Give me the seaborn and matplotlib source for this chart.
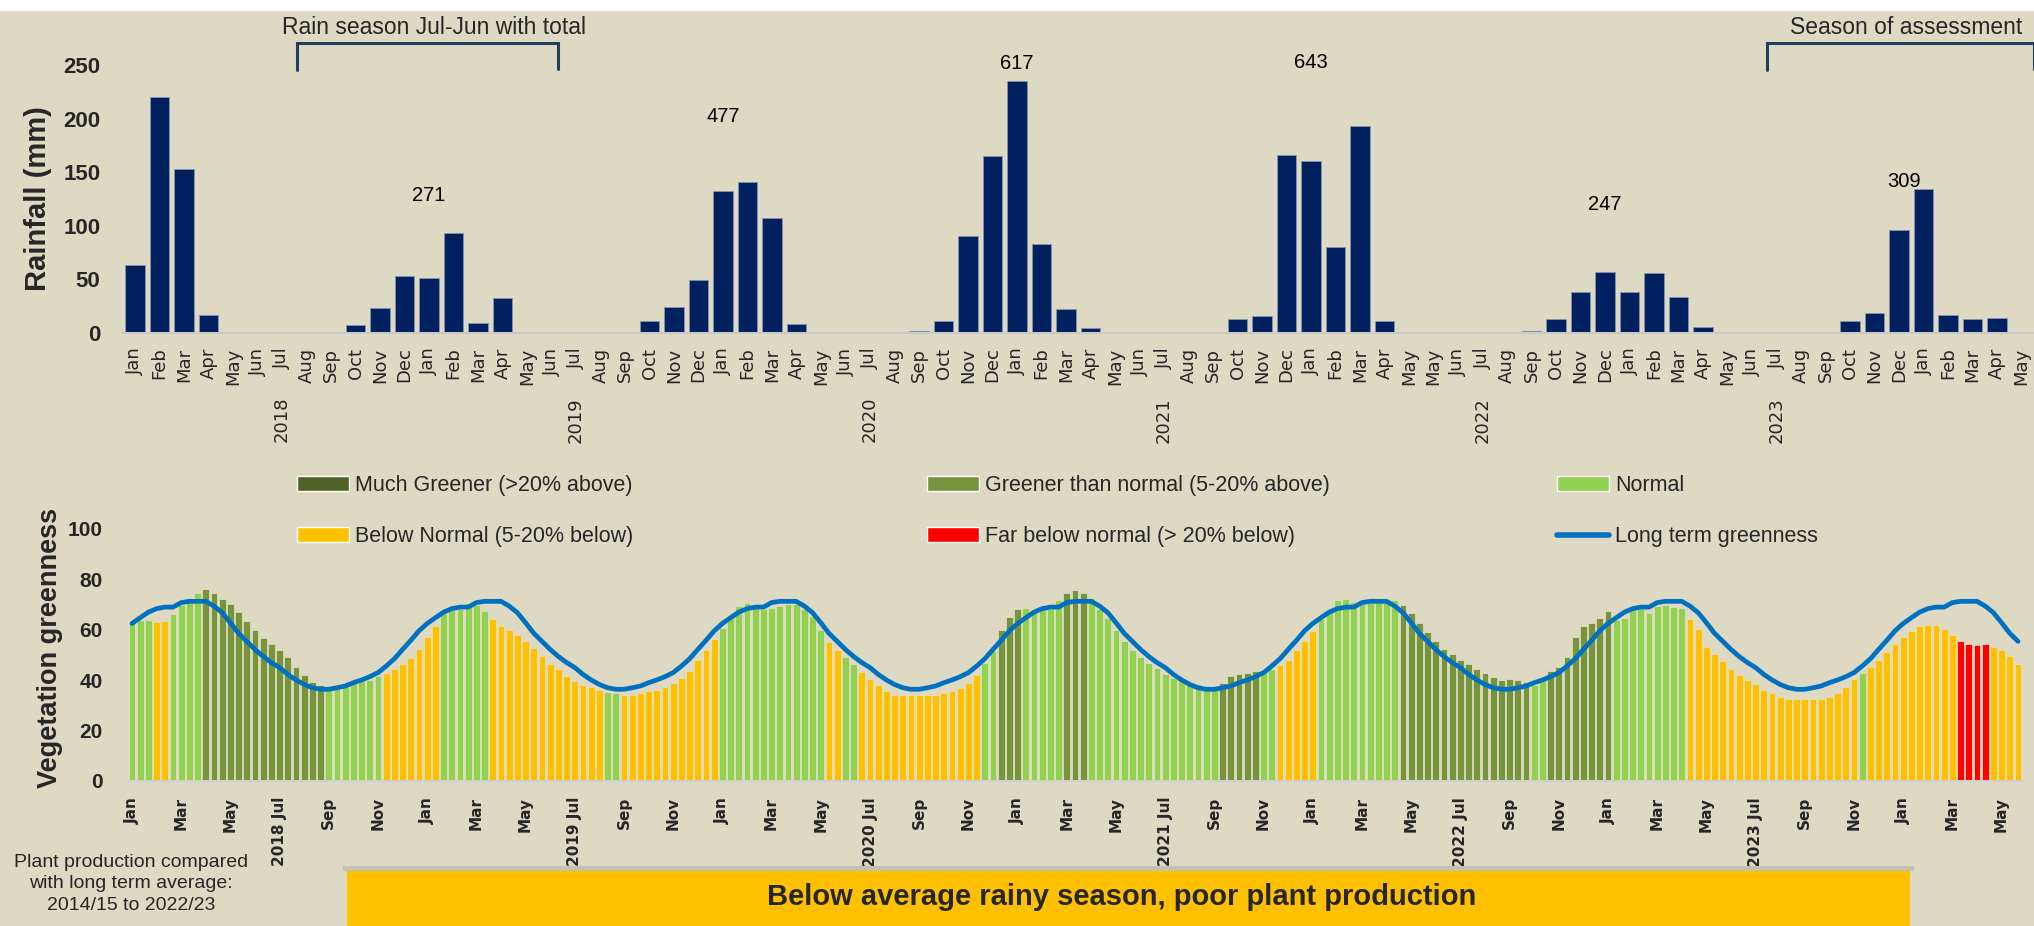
import numpy as np
import pandas as pd
import matplotlib
matplotlib.use("Agg")
import matplotlib.pyplot as plt
from matplotlib.patches import Patch, Rectangle
from matplotlib.lines import Line2D
import seaborn as sns

# ---------------- data ----------------
months = ['Jan', 'Feb', 'Mar', 'Apr', 'May', 'Jun', 'Jul', 'Aug', 'Sep', 'Oct', 'Nov', 'Dec']

# monthly rainfall (mm), Jan 2018 - May 2024 (2022 has "May" twice, as in the source chart)
rain_2018 = [63, 220, 153, 17, 0, 0, 0, 0, 0.5, 7.5, 23, 53]
rain_2019 = [51, 93, 9, 32.5, 0, 0, 0, 0, 0.5, 11.5, 24, 49]
rain_2020 = [132, 140.6, 107, 8.8, 0, 0, 0, 0, 1.5, 11.5, 90.6, 165]
rain_2021 = [235, 83.4, 22.8, 4.4, 0, 0, 0, 0, 0.3, 12.8, 15.6, 166]
rain_2022 = [160, 80, 193, 11.5, 0.3, 0.3, 0, 0, 0, 1.5, 12.8, 37.8, 57.2]
rain_2023 = [37.8, 55.6, 33.8, 6, 0, 0, 0, 0, 0.3, 11.5, 18.4, 96]
rain_2024 = [134, 17, 12.8, 14.4, 0]
rainfall = rain_2018 + rain_2019 + rain_2020 + rain_2021 + rain_2022 + rain_2023 + rain_2024
rain_months = months * 4 + months[:5] + ['May'] + months[5:] + months + months[:5]
rain_years = ['2018', '2019', '2020', '2021', '2022', '2023']
season_totals = [271, 477, 617, 643, 247, 309]

# dekadal vegetation greenness, Jan 2018 - May 2024
veg_2018 = [63.5, 64.0, 64.0, 63.0, 63.6, 66.4, 69.7, 72.8, 74.5, 76.2, 74.6, 72.4,
            70.2, 66.9, 63.6, 59.9, 56.6, 54.5, 51.9, 49.1, 45.4, 42.1, 39.4, 38.2,
            37.7, 37.7, 38.1, 38.8, 39.6, 40.2, 41.7, 42.7, 44.3, 46.3, 48.7, 52.4]
veg_2019 = [57.3, 61.6, 66.8, 67.9, 68.4, 70.8, 69.7, 67.5, 64.2, 61.5, 59.9, 57.8,
            55.7, 52.9, 49.6, 46.4, 44.3, 41.5, 39.8, 38.2, 37.2, 36.1, 35.4, 35.1,
            34.0, 34.0, 35.1, 35.6, 36.1, 37.3, 38.8, 41.0, 43.7, 48.0, 51.9, 56.2]
veg_2020 = [60.8, 65.2, 69.4, 70.8, 70.2, 68.4, 68.7, 69.3, 70.4, 70.4, 68.4, 65.5,
            59.9, 55.2, 52.0, 49.2, 46.3, 43.3, 40.6, 38.0, 35.7, 34.0, 34.0, 34.0,
            34.0, 34.0, 34.0, 35.1, 35.6, 36.8, 38.9, 42.1, 47.0, 51.6, 59.9, 65.2]
veg_2021 = [68.1, 68.5, 68.4, 68.1, 68.4, 71.8, 74.5, 75.7, 74.6, 72.8, 68.1, 64.8,
            59.9, 55.6, 51.9, 49.2, 47.0, 45.0, 42.6, 41.0, 40.3, 39.3, 38.4, 37.7,
            37.7, 38.8, 41.7, 42.6, 43.0, 43.7, 43.7, 44.6, 45.9, 48.0, 51.9, 55.6]
veg_2022 = [59.4, 64.2, 67.9, 71.8, 72.4, 71.0, 70.8, 70.8, 71.0, 71.0, 71.8, 69.7,
            66.5, 62.7, 59.0, 55.7, 52.5, 50.3, 48.1, 46.6, 44.3, 42.7, 41.1, 39.9,
            40.6, 39.9, 39.4, 38.0, 41.4, 43.7, 45.4, 49.2, 57.3, 61.5, 62.7, 64.8]
veg_2023 = [67.5, 63.8, 64.8, 69.4, 68.4, 66.5, 69.4, 69.7, 69.0, 68.5, 64.2, 60.4,
            53.3, 50.3, 47.5, 44.3, 42.2, 39.9, 38.4, 36.1, 35.1, 33.5, 32.4, 32.4,
            32.4, 32.4, 32.4, 33.5, 35.1, 37.3, 40.6, 43.0, 45.4, 48.0, 51.3, 54.5]
veg_2024 = [57.3, 59.4, 61.5, 62.0, 62.0, 60.4, 57.8, 55.7, 54.5, 54.0, 54.5, 53.3,
            51.9, 49.6, 46.4]
greenness = veg_2018 + veg_2019 + veg_2020 + veg_2021 + veg_2022 + veg_2023 + veg_2024

# class per dekad: G greener, N normal, B below normal, F far below
cls_2018 = "NNNBBNNNN" + "G" * 15 + "N" * 7 + "B" * 5
cls_2019 = "BB" + "N" * 6 + "B" * 14 + "NN" + "B" * 12
cls_2020 = "N" * 13 + "BB" + "NN" + "B" * 15 + "NN" + "GG"
cls_2021 = "G" + "N" * 5 + "GGG" + "N" * 16 + "G" * 5 + "NN" + "B" * 4
cls_2022 = "B" + "N" * 10 + "G" * 16 + "NN" + "G" * 7
cls_2023 = "G" + "N" * 9 + "B" * 21 + "N" + "B" * 4
cls_2024 = "B" * 7 + "F" * 4 + "B" * 4
veg_class = list(cls_2018 + cls_2019 + cls_2020 + cls_2021 + cls_2022 + cls_2023 + cls_2024)

# long term greenness per dekad of the year (same every year)
long_term_dekad = [62.5, 64.8, 67.0, 68.4, 69.0, 69.0, 70.8, 71.3, 71.3, 71.3, 69.4, 66.8,
                   62.8, 58.6, 55.4, 52.2, 49.4, 47.0, 45.0, 42.3, 40.1, 38.3, 37.0, 36.4,
                   36.4, 37.0, 37.7, 39.0, 40.1, 41.4, 43.0, 45.6, 48.5, 52.2, 55.8, 59.6]
long_term = long_term_dekad * 6 + long_term_dekad[:15]

veg_ticks_lbl = []
for y in rain_years:
    veg_ticks_lbl += ['Jan', 'Mar', 'May', y + ' Jul', 'Sep', 'Nov']
veg_ticks_lbl += ['Jan', 'Mar', 'May']

# ---------------- style ----------------
BG = '#DDD9C3'
NAVY = '#002060'
class_colors = {'G': '#77933C', 'N': '#92D050', 'B': '#FFC000', 'F': '#FF0000'}

sns.set_theme(style='white')
plt.rcParams['font.family'] = ['Liberation Sans', 'DejaVu Sans']

W, H = 2034, 926
fig = plt.figure(figsize=(W / 100, H / 100), dpi=100, facecolor=BG)

# white strip at top
fig.patches.append(Rectangle((0, 1 - 11 / H), 1, 11 / H, transform=fig.transFigure,
                             facecolor='white', edgecolor='none', zorder=0))

# ---------------- rainfall panel ----------------
ax1 = fig.add_axes([122.75 / W, 593 / H, 1911 / W, 268 / H])
ax1.set_facecolor('none')
df_rain = pd.DataFrame({'idx': np.arange(len(rainfall)), 'rain': rainfall})
sns.barplot(data=df_rain, x='idx', y='rain', color=NAVY, saturation=1, width=0.8,
            errorbar=None, edgecolor='#8894B0', linewidth=0.6, ax=ax1)
ax1.set_xlim(-0.5, len(rainfall) - 0.5)
ax1.set_ylim(0, 250)
ax1.set_yticks([0, 50, 100, 150, 200, 250])
ax1.set_yticklabels(['0', '50', '100', '150', '200', '250'], fontsize=16, fontweight='bold')
ax1.set_xticks(np.arange(len(rainfall)), labels=rain_months, rotation=90,
               fontsize=13, fontfamily='DejaVu Sans')
jul_pos = [i for i, m in enumerate(rain_months) if m == 'Jul']
ax1.xaxis.remove_overlapping_locs = False
ax1.set_xticks(jul_pos, labels=rain_years, minor=True, rotation=90,
               fontsize=13, fontfamily='DejaVu Sans')
ax1.tick_params(axis='x', which='major', length=0, pad=10.5)
ax1.tick_params(axis='x', which='minor', length=0, pad=46)
ax1.tick_params(axis='y', length=0, pad=16)
for s in ['top', 'right', 'left']:
    ax1.spines[s].set_visible(False)
ax1.spines['bottom'].set_color('#C9C9C9')
ax1.spines['bottom'].set_linewidth(1.5)
ax1.set_xlabel('')
ax1.set_ylabel('Rainfall (mm)', fontsize=21, fontweight='bold')
ax1.yaxis.set_label_coords(-0.0368, 0.5)

# season totals
total_pos = [(12, 128), (24, 202), (36, 251), (48, 252), (60, 120), (72.2, 141)]
for t, (tx, ty) in zip(season_totals, total_pos):
    ax1.text(tx, ty, str(t), ha='center', va='center', fontsize=14.5, color='black')

# brackets
BR = '#243F60'
ax1.plot([6.6, 6.6, 17.25, 17.25], [245, 270.5, 270.5, 246.5], color=BR, lw=2.2,
         clip_on=False, solid_joinstyle='miter')
ax1.plot([66.6, 66.6, 77.5, 77.5], [245, 270.5, 270.5, 246.5], color=BR, lw=2.2,
         clip_on=False, solid_joinstyle='miter')
ax1.text(12.2, 285, 'Rain season Jul-Jun with total', ha='center', va='center',
         fontsize=16.5, clip_on=False)
ax1.text(72.3, 285, 'Season of assessment', ha='center', va='center',
         fontsize=16.5, clip_on=False)

# ---------------- greenness panel ----------------
ax2 = fig.add_axes([127.9 / W, 145 / H, 1894.2 / W, 252 / H])
ax2.set_facecolor('none')
df_veg = pd.DataFrame({'idx': np.arange(len(greenness)), 'veg': greenness,
                       'cls': veg_class, 'lta': long_term})
sns.barplot(data=df_veg, x='idx', y='veg', hue='cls', palette=class_colors,
            dodge=False, saturation=1, width=0.84, errorbar=None, legend=False,
            edgecolor='#E6E2CC', linewidth=0.5, ax=ax2)
sns.lineplot(data=df_veg, x='idx', y='lta', color='#0070C0', lw=3.4,
             solid_capstyle='round', ax=ax2)
ax2.set_xlim(-0.5, len(greenness) - 0.5)
ax2.set_ylim(0, 100)
ax2.set_yticks([0, 20, 40, 60, 80, 100])
ax2.set_yticklabels(['0', '20', '40', '60', '80', '100'], fontsize=15, fontweight='bold')
ax2.set_xticks(np.arange(0, len(greenness), 6), labels=veg_ticks_lbl, rotation=90,
               fontsize=11, fontweight='bold', fontfamily='DejaVu Sans')
ax2.tick_params(axis='x', length=0, pad=11.5)
ax2.tick_params(axis='y', length=0, pad=18)
for s in ['top', 'right', 'left']:
    ax2.spines[s].set_visible(False)
ax2.spines['bottom'].set_color('#CFCFCF')
ax2.spines['bottom'].set_linewidth(1.5)
ax2.set_xlabel('')
ax2.set_ylabel('Vegetation greenness', fontsize=19.5, fontweight='bold')
ax2.yaxis.set_label_coords(-0.0343, 0.528)

# legend in three columns
leg_handles = [
    [Patch(facecolor='#4F6228'), Patch(facecolor='#FFC000')],
    [Patch(facecolor='#77933C'), Patch(facecolor='#FF0000')],
    [Patch(facecolor='#92D050'), Line2D([], [], color='#0070C0', lw=4)],
]
leg_labels = [
    ['Much Greener (>20% above)', 'Below Normal (5-20% below)'],
    ['Greener than normal (5-20% above)', 'Far below normal (> 20% below)'],
    ['Normal', 'Long term greenness'],
]
for hx, hs, ls in zip([297, 927, 1557], leg_handles, leg_labels):
    fig.legend(hs, ls, loc='upper left', bbox_to_anchor=(hx / W, 1 - 475 / H),
               frameon=False, fontsize=15.5, handlelength=2.4, handleheight=0.7,
               handletextpad=0.3, labelspacing=1.4, borderpad=0, borderaxespad=0)

# ---------------- bottom notes ----------------
fig.patches.append(Rectangle((343 / W, 55 / H), (1914 - 343) / W, 5 / H,
                             transform=fig.transFigure, facecolor='#C4C1B0',
                             edgecolor='none'))
fig.patches.append(Rectangle((347 / W, 0), (1910 - 347) / W, 55 / H,
                             transform=fig.transFigure, facecolor='#FFC000',
                             edgecolor='none'))
fig.text(1122 / W, 1 - 897 / H, 'Below average rainy season, poor plant production',
         ha='center', va='center', fontsize=21, fontweight='bold')
fig.text(131 / W, 1 - 884 / H,
         'Plant production compared\nwith long term average:\n2014/15 to 2022/23',
         ha='center', va='center', fontsize=14, linespacing=1.35)

fig.savefig('out.png', dpi=100, facecolor=BG)
